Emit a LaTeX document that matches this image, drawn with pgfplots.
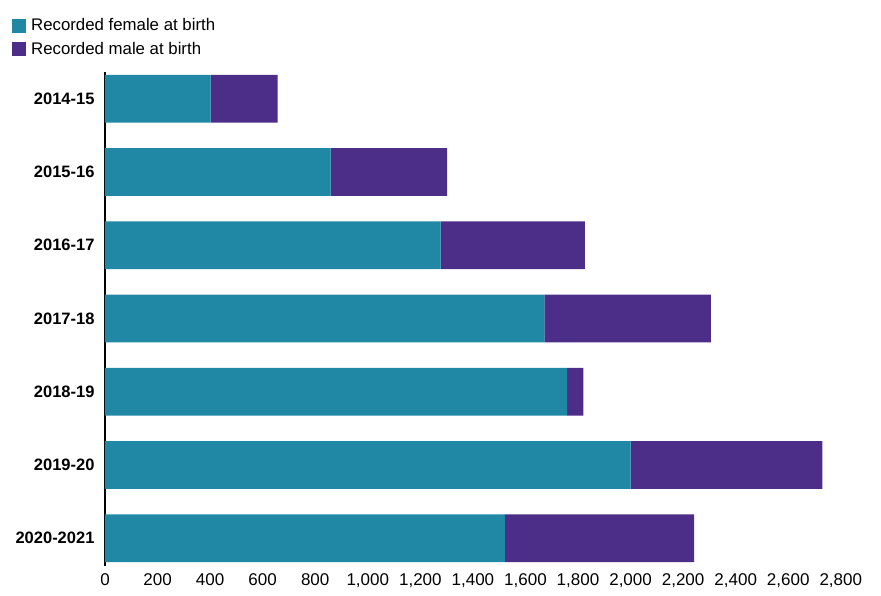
\documentclass[border=0pt]{standalone}
\usepackage{pgfplots}
\pgfplotsset{compat=1.18}
\usepackage{fontspec}
\setmainfont{Liberation Sans}
\definecolor{fem}{RGB}{32,136,164}
\definecolor{mal}{RGB}{76,46,136}
\begin{document}
\begin{tikzpicture}
\begin{axis}[
  scale only axis,
  width=735.8pt, height=494.1pt,
  xbar stacked, bar width=47.7pt,
  xmin=0, xmax=2800, ymin=-0.38, ymax=6.366,
  ytick={0,1,2,3,4,5,6},
  yticklabels={2020-2021,2019-20,2018-19,2017-18,2016-17,2015-16,2014-15},
  xtick={0,200,...,2800},
  scaled x ticks=false,
  /pgf/number format/.cd, 1000 sep={,}, assume math mode=true, /pgfplots/.cd,
  major tick length=0pt,
  axis lines*=left,
  x axis line style={draw=none},
  y axis line style={line width=1.5pt, black},
  xticklabel style={font=\fontsize{17}{20}\selectfont, anchor=base, yshift=-20pt},
  yticklabel style={font=\bfseries\fontsize{16.5}{19}\selectfont, xshift=-7pt},
  legend style={at={(axis description cs:-0.1264,1.112)}, anchor=north west,
    draw=none, fill=none, inner sep=0pt, row sep=5.5pt,
    font=\fontsize{16.8}{19}\selectfont},
  legend cell align=left,
  legend image code/.code={\fill[#1] (0pt,-7pt) rectangle (14pt,7pt); \path (17pt,0pt);},
]
\addplot[fill=fem, draw=none] coordinates {(1522,0) (2000,1) (1759,2) (1672,3) (1277,4) (859,5) (402,6)};
\addlegendentry{Recorded female at birth}
\addplot[fill=mal, draw=none] coordinates {(720,0) (730,1) (61,2) (634,3) (549,4) (443,5) (255,6)};
\addlegendentry{Recorded male at birth}
\end{axis}
\path[use as bounding box] (-105pt,-30pt) rectangle (776pt,566pt);
\end{tikzpicture}
\end{document}
